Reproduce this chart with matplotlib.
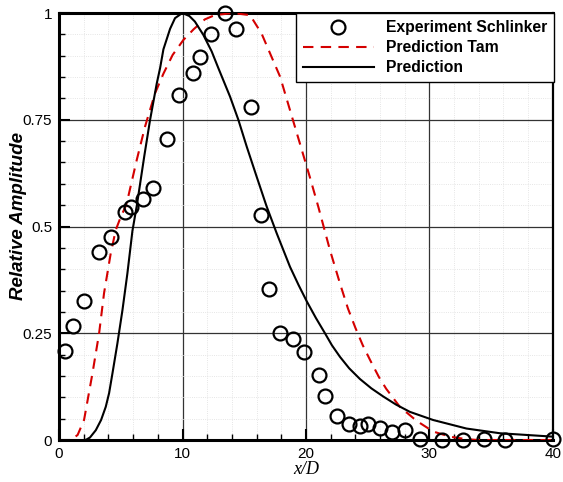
import matplotlib
matplotlib.use('Agg')
import matplotlib.pyplot as plt
from matplotlib.ticker import MultipleLocator, FixedLocator
import numpy as np

plt.rcParams['font.family'] = ['Liberation Sans', 'DejaVu Sans']

# experiment points
exp_x = [0.49, 1.13, 2.02, 3.24, 4.21, 5.34, 5.83, 6.8, 7.61, 8.74, 9.72, 10.85, 11.42,
         12.3, 13.44, 14.33, 15.55, 16.36, 17.0, 17.9, 18.95, 19.84, 21.05, 21.5, 22.5,
         23.5, 24.4, 25.0, 26.0, 27.0, 28.0, 29.2, 31.0, 32.7, 34.4, 36.1, 40.0]
exp_y = [0.208, 0.267, 0.326, 0.44, 0.475, 0.534, 0.546, 0.564, 0.59, 0.705, 0.808, 0.86, 0.897,
         0.951, 1.0, 0.962, 0.78, 0.527, 0.354, 0.25, 0.237, 0.206, 0.152, 0.103, 0.056,
         0.037, 0.034, 0.037, 0.029, 0.018, 0.023, 0.002, 0.0, 0.0, 0.002, 0.0, 0.002]

# Tam prediction (dashed red)
tam_x = [0, 0.95, 1.5, 2.02, 2.7, 3.24, 3.64, 4.18, 4.59, 5.0, 5.4, 5.6, 6.29, 6.96, 7.77,
         8.45, 9.2, 10.07, 10.9, 11.8, 12.6, 14.1, 15.47, 16.4, 17.2, 17.9, 18.7, 19.5, 20.3,
         21.0, 21.94, 22.75, 23.4, 24.0, 24.6, 25.2, 25.9, 26.5, 27.6, 28.96, 30.3, 31.66,
         33.0, 34.0, 40.0]
tam_y = [0, 0, 0.012, 0.047, 0.156, 0.25, 0.344, 0.437, 0.492, 0.523, 0.548, 0.57, 0.656, 0.734, 0.812,
         0.858, 0.902, 0.937, 0.962, 0.985, 0.995, 1.0, 0.995, 0.952, 0.898, 0.851, 0.773, 0.695, 0.617,
         0.546, 0.445, 0.367, 0.308, 0.263, 0.222, 0.187, 0.148, 0.12, 0.078, 0.045, 0.02, 0.008,
         0.002, 0.0, 0.0]

# present prediction (solid black)
pred_x = [0, 2.0, 2.2, 2.5, 2.97, 3.4, 3.78, 4.05, 4.32, 4.72, 5.13, 5.53, 5.94, 6.3, 6.9, 7.37,
          7.91, 8.18, 8.45, 8.99, 9.39, 9.98, 10.55, 11.0, 11.68, 12.36, 12.9, 13.85, 14.52,
          15.2, 16.0, 16.8, 17.63, 18.7, 19.4, 20.06, 20.8, 21.54, 22.1, 22.75, 23.5, 24.37,
          25.3, 26.26, 27.3, 28.42, 30.3, 33.0, 35.7, 40.0]
pred_y = [0, 0, 0.001, 0.006, 0.023, 0.047, 0.078, 0.11, 0.156, 0.226, 0.304, 0.39, 0.49, 0.55, 0.665, 0.75,
          0.835, 0.871, 0.915, 0.963, 0.988, 1.0, 0.993, 0.98, 0.949, 0.91, 0.871, 0.804, 0.75,
          0.687, 0.617, 0.548, 0.484, 0.406, 0.363, 0.325, 0.286, 0.25, 0.222, 0.195, 0.168, 0.143,
          0.121, 0.102, 0.083, 0.066, 0.047, 0.027, 0.016, 0.008]

fig = plt.figure(figsize=(5.63, 4.82), dpi=100)
ax = fig.add_axes([0.105, 0.087, 0.877, 0.886])

ax.plot(exp_x, exp_y, 'o', mfc='none', mec='black', ms=10, mew=1.6,
        label='Experiment Schlinker', zorder=5, clip_on=False)
ax.plot(tam_x, tam_y, '--', color='#d40000', lw=1.5, dashes=(5, 3.5),
        label='Prediction Tam', zorder=4)
ax.plot(pred_x, pred_y, '-', color='black', lw=1.5, label='Prediction', zorder=4)

ax.set_xlim(0, 40)
ax.set_ylim(0, 1)
ax.xaxis.set_major_locator(MultipleLocator(10))
ax.xaxis.set_minor_locator(MultipleLocator(2))
ax.yaxis.set_major_locator(FixedLocator([0, 0.25, 0.5, 0.75, 1]))
ax.yaxis.set_minor_locator(MultipleLocator(0.05))
ax.set_yticklabels(['0', '0.25', '0.5', '0.75', '1'])

ax.grid(which='major', color='#333333', lw=0.9, zorder=1)
ax.grid(which='minor', color='#dddddd', lw=0.6, ls=':', zorder=0)
ax.set_axisbelow(True)

ax.tick_params(which='major', direction='in', length=8, width=1.5, labelsize=11, pad=5)
ax.tick_params(which='minor', direction='in', length=4, width=1)
for side in ['left', 'bottom', 'top']:
    ax.spines[side].set_linewidth(2.2)
ax.spines['right'].set_linewidth(1.6)

ax.set_xlabel('x/D', fontsize=13, family=['Liberation Serif', 'DejaVu Serif'],
              style='italic', labelpad=0)
ax.set_ylabel('Relative Amplitude', fontsize=13.5, fontweight='bold', style='italic')
ax.yaxis.set_label_coords(-0.066, 0.525)

leg = ax.legend(loc='upper right', bbox_to_anchor=(1.002, 1.0), fancybox=False,
                framealpha=1, edgecolor='black', handlelength=4.5, borderpad=0.45,
                labelspacing=0.33, handletextpad=0.75, borderaxespad=0,
                prop={'weight': 'bold', 'size': 11.3})
leg.get_frame().set_linewidth(1.0)

fig.savefig('out.png', dpi=100)
